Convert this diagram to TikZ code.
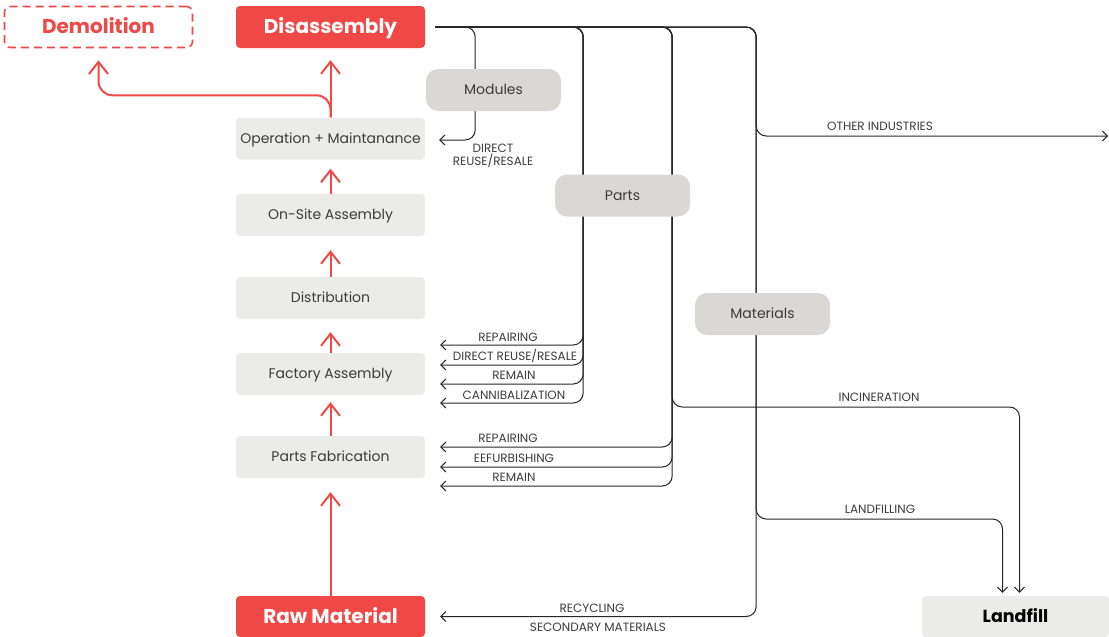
\documentclass[tikz,border=0pt]{standalone}
\usepackage{fontspec}
\setmainfont{Poppins}
\usetikzlibrary{arrows.meta,calc}
\definecolor{myred}{HTML}{F04747}
\definecolor{stepgray}{HTML}{EBEBEA}
\definecolor{catgray}{HTML}{D9D8D4}
\definecolor{txtgray}{HTML}{3C3C3C}
\definecolor{linegray}{HTML}{262626}
\pgfdeclarelayer{bg}\pgfsetlayers{bg,main}
\begin{document}
\begin{tikzpicture}[x=1pt,y=-1pt,
  stepbox/.style={fill=stepgray, rounded corners=4pt, minimum width=189pt, minimum height=42pt, inner sep=0pt, text=txtgray, font=\fontsize{14}{16}\selectfont, text height=9.8pt, text depth=0pt},
  redbox/.style={fill=myred, rounded corners=4pt, minimum width=189pt, minimum height=42pt, inner sep=0pt, text=white, font=\fontsize{20}{22}\selectfont\bfseries, text height=14pt, text depth=0pt},
  demobox/.style={draw=myred, line width=1.6pt, dash pattern=on 8pt off 5pt, rounded corners=6pt, minimum width=188pt, minimum height=41pt, inner sep=0pt, text=myred, font=\fontsize{20}{22}\selectfont\bfseries, text height=14pt, text depth=0pt},
  catbox/.style={fill=catgray, rounded corners=12pt, minimum width=135pt, minimum height=42pt, inner sep=0pt, text=txtgray, font=\fontsize{14}{16}\selectfont, text height=9.8pt, text depth=0pt},
  lbl/.style={text=txtgray, font=\fontsize{12}{13}\selectfont, inner sep=0pt, align=center},
  ctext/.style={text height=8.4pt, text depth=0pt},
  rarrow/.style={draw=myred, line width=2pt, -{Straight Barb[length=12pt,width=19pt,line width=2pt]}},
  bline/.style={draw=linegray, line width=1pt, rounded corners=10pt, shorten <=10pt, -{Straight Barb[length=5pt,width=10pt,line width=1pt]}},
]
\useasboundingbox (0,0) rectangle (1109,637);

% nodes
\node[demobox] (demo) at (98.5,27) {Demolition};
\node[redbox] (dis) at (330.5,27) {Disassembly};
\node[stepbox] (opm) at (330.5,138.5) {Operation + Maintanance};
\node[stepbox] (osa) at (330.5,215) {On-Site Assembly};
\node[stepbox] (dist) at (330.5,298) {Distribution};
\node[stepbox] (fa) at (330.5,374) {Factory Assembly};
\node[stepbox] (pf) at (330.5,457) {Parts Fabrication};
\node[redbox, minimum height=41pt] (raw) at (330.5,616.5) {Raw Material};
\node[stepbox, minimum width=187pt, minimum height=41pt, text=black, font=\fontsize{17.5}{19}\selectfont\bfseries, text height=12.2pt] (lf) at (1015.5,616.5) {Landfill};
\node[catbox] (mod) at (493.5,90) {Modules};
\node[catbox] (parts) at (622.5,195.5) {Parts};
\node[catbox] (mat) at (762.5,314) {Materials};
\coordinate (oi) at (1108,136);

% red flow
\draw[rarrow, shorten >=12pt] (opm.north) -- (dis.south);
\draw[rarrow, rounded corners=14pt, shorten >=12pt] (opm.north) -- ++(0,-22) -| (demo.south);
\draw[rarrow, shorten >=9pt] (osa.north) -- (opm.south);
\draw[rarrow, shorten >=14pt] (dist.north) -- (osa.south);
\draw[rarrow, shorten >=13pt] (fa.north) -- (dist.south);
\draw[rarrow, shorten >=7pt] (pf.north) -- (fa.south);
\draw[rarrow, shorten >=14pt] (raw.north) -- (pf.south);

% black flows
\begin{pgfonlayer}{bg}
\draw[bline] (dis.east) -| ($(opm.east)+(50,1.5)$) -- ($(opm.east)+(14,1.5)$);
\foreach \dy in {-29,-9,10,29}
  \draw[bline] (dis.east) -| ($(fa.east)+(158,\dy)$) -- ($(fa.east)+(15,\dy)$);
\foreach \dy in {-10,10,29}
  \draw[bline] (dis.east) -| ($(pf.east)+(247,\dy)$) -- ($(pf.east)+(15,\dy)$);
\draw[bline, shorten >=3pt] (dis.east) -| ($(pf.east)+(247,-50)$) -| ($(lf.north)+(4,0)$);
\draw[bline] (dis.east) -| ($(opm.east)+(331,-2.5)$) -- (oi);
\draw[bline, shorten >=3pt] (dis.east) -| ($(pf.east)+(331,62)$) -| ($(lf.north)+(-13,0)$);
\draw[bline] (dis.east) -| ($(raw.east)+(331,0)$) -- ($(raw.east)+(15,0)$);
\end{pgfonlayer}

% labels
\node[lbl] (l1) at (493,156) {DIRECT\\REUSE/RESALE};
\node[lbl, ctext] (l2) at (508,337) {REPAIRING};
\node[lbl, ctext] (l3) at (515,356) {DIRECT REUSE/RESALE};
\node[lbl, ctext] (l4) at (514,375) {REMAIN};
\node[lbl, ctext] (l5) at (514,395) {CANNIBALIZATION};
\node[lbl, ctext] (l6) at (508,438) {REPAIRING};
\node[lbl, ctext] (l7) at (514,458) {EEFURBISHING};
\node[lbl, ctext] (l8) at (514,477) {REMAIN};
\node[lbl, ctext] (l9) at (880,126) {OTHER INDUSTRIES};
\node[lbl, ctext] (l10) at (879,397) {INCINERATION};
\node[lbl, ctext] (l11) at (880,509) {LANDFILLING};
\node[lbl, ctext] (l12) at (592,608) {RECYCLING};
\node[lbl, ctext] (l13) at (598,627) {SECONDARY MATERIALS};
\end{tikzpicture}
\end{document}
